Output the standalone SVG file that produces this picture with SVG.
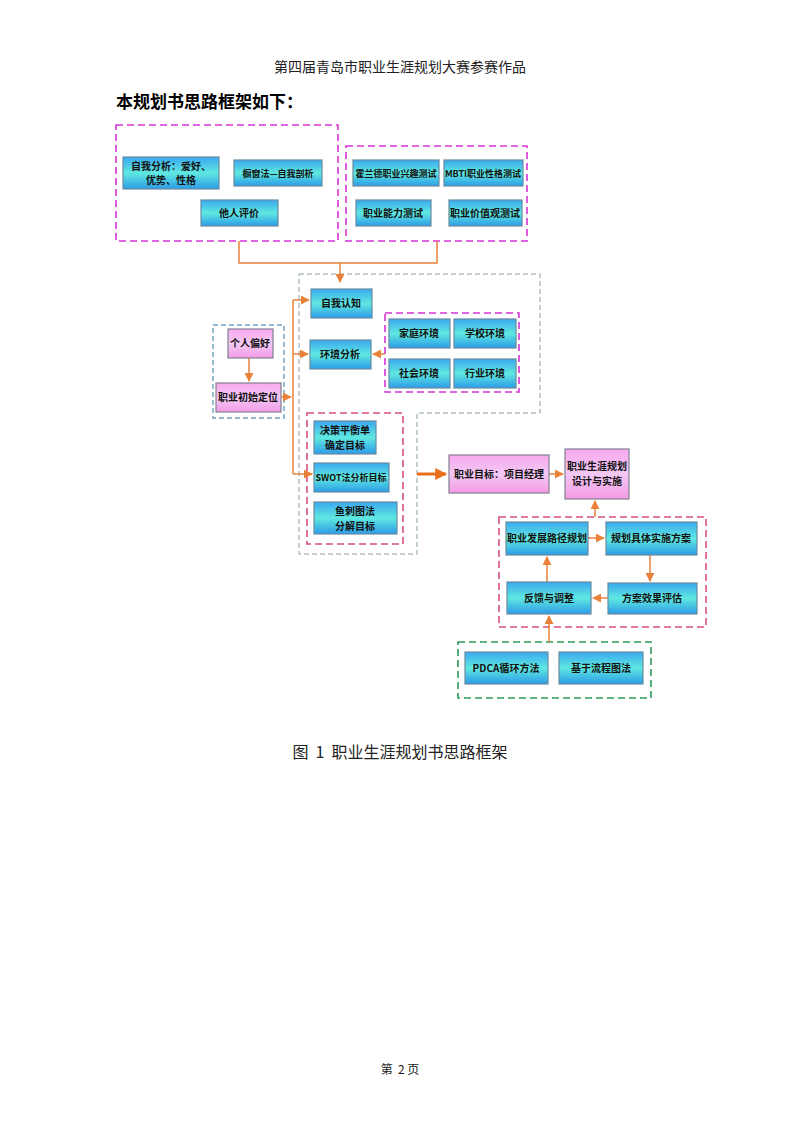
<svg xmlns="http://www.w3.org/2000/svg" width="800" height="1132" viewBox="0 0 800 1132">
<defs>
<linearGradient id="gb" x1="0" y1="0" x2="0" y2="1"><stop offset="0" stop-color="#3aa8f0"/><stop offset="0.5" stop-color="#5fe8e0"/><stop offset="1" stop-color="#2c9ce8"/></linearGradient>
<linearGradient id="gp" x1="0" y1="0" x2="0" y2="1"><stop offset="0" stop-color="#f9a8ee"/><stop offset="0.5" stop-color="#f2c8f4"/><stop offset="1" stop-color="#f59ae6"/></linearGradient>
<marker id="ar" viewBox="0 0 10 10" refX="9" refY="5" markerWidth="6" markerHeight="6" orient="auto"><path d="M0,0L10,5L0,10z" fill="#e8823a"/></marker>
<marker id="ab" viewBox="0 0 10 10" refX="9" refY="5" markerWidth="4" markerHeight="4" orient="auto"><path d="M0,0L10,5L0,10z" fill="#e86e1a"/></marker>
<style>
.n{fill:url(#gb);stroke:#6a8ca0;stroke-width:1.2}
.p{fill:url(#gp);stroke:#808090;stroke-width:1.2}
.t{font-family:"Noto Sans CJK SC",sans-serif;font-size:10px;font-weight:bold;fill:#111;text-anchor:middle}
.s{font-size:9px}
.c{fill:none;stroke:#e8823a;stroke-width:1.5}
.dm{fill:none;stroke:#d633d6;stroke-width:1.6;stroke-dasharray:7,4}
.dr{fill:none;stroke:#d8507a;stroke-width:1.6;stroke-dasharray:7,4}
.dg{fill:none;stroke:#8aa0a0;stroke-width:1;stroke-dasharray:5,3}
.db{fill:none;stroke:#6ea0c0;stroke-width:1.4;stroke-dasharray:5,3}
.dgr{fill:none;stroke:#2e9a5a;stroke-width:1.6;stroke-dasharray:7,4}
</style>
</defs>
<rect width="800" height="1132" fill="#fff"/>
<text x="400" y="72" font-family="Noto Sans CJK SC,serif" font-size="14" text-anchor="middle" fill="#222">第四届青岛市职业生涯规划大赛参赛作品</text>
<text x="116" y="108" font-family="Noto Sans CJK SC,sans-serif" font-size="17" font-weight="bold" fill="#000">本规划书思路框架如下：</text>
<g id="groups">
<rect class="dm" x="116" y="125" width="222" height="116"/>
<rect class="dm" x="346" y="146" width="181" height="95"/>
<path class="dg" d="M299,274H540V413H417V554H299Z"/>
<rect class="dm" x="385" y="313" width="134" height="79"/>
<rect class="db" x="213" y="325" width="71" height="93"/>
<rect class="dr" x="307" y="413" width="96" height="131"/>
<rect class="dr" x="499" y="517" width="207" height="110"/>
<rect class="dgr" x="458" y="642" width="193" height="56"/>
</g>
<g id="connectors">
<path class="c" d="M239,241V263H437V241"/>
<path class="c" d="M340,263V282" marker-end="url(#ar)"/>
<path class="c" d="M293,300V474"/>
<path class="c" d="M293,300H309" marker-end="url(#ar)"/>
<path class="c" d="M293,354H308" marker-end="url(#ar)"/>
<path class="c" d="M385,354H373" marker-end="url(#ar)"/>
<path class="c" d="M281,397H291" marker-end="url(#ar)"/>
<path class="c" d="M293,474H312" marker-end="url(#ar)"/>
<path class="c" d="M249,358V381" marker-end="url(#ar)"/>
<path d="M417,474H446" stroke="#e86e1a" stroke-width="3" fill="none" marker-end="url(#ab)"/>
<path class="c" d="M549,474H563" marker-end="url(#ar)"/>
<path class="c" d="M595,517V501" marker-end="url(#ar)"/>
<path class="c" d="M588,538H604" marker-end="url(#ar)"/>
<path class="c" d="M650,555V581" stroke="#b08070" marker-end="url(#ar)"/>
<path class="c" d="M608,598H593" marker-end="url(#ar)"/>
<path class="c" d="M547,582V557" stroke="#b08070" marker-end="url(#ar)"/>
<path class="c" d="M549,642V616" stroke="#b09090" marker-end="url(#ar)"/>
</g>
<g id="n1"><rect class="n" x="123" y="157" width="96" height="32"/><text class="t" x="171" y="170">自我分析：爱好、</text><text class="t" x="171" y="184">优势、性格</text></g>
<g id="n2"><rect class="n" x="234" y="160" width="88" height="26"/><text class="t s" x="278" y="177">橱窗法—自我剖析</text></g>
<g id="n3"><rect class="n" x="201" y="200" width="77" height="26"/><text class="t" x="239" y="217">他人评价</text></g>
<g id="n4"><rect class="n" x="353" y="160" width="86" height="26"/><text class="t s" x="396" y="177">霍兰德职业兴趣测试</text></g>
<g id="n5"><rect class="n" x="444" y="160" width="79" height="26"/><text class="t s" x="483" y="177">MBTI职业性格测试</text></g>
<g id="n6"><rect class="n" x="356" y="200" width="75" height="26"/><text class="t" x="393" y="217">职业能力测试</text></g>
<g id="n7"><rect class="n" x="449" y="200" width="73" height="26"/><text class="t" x="485" y="217">职业价值观测试</text></g>
<g id="n8"><rect class="n" x="311" y="289" width="61" height="29"/><text class="t" x="341" y="307">自我认知</text></g>
<g id="n9"><rect class="n" x="310" y="340" width="61" height="29"/><text class="t" x="340" y="358">环境分析</text></g>
<g id="n10"><rect class="n" x="389" y="319" width="61" height="29"/><text class="t" x="419" y="337">家庭环境</text></g>
<g id="n11"><rect class="n" x="454" y="319" width="62" height="29"/><text class="t" x="485" y="337">学校环境</text></g>
<g id="n12"><rect class="n" x="389" y="359" width="61" height="29"/><text class="t" x="419" y="377">社会环境</text></g>
<g id="n13"><rect class="n" x="454" y="359" width="62" height="29"/><text class="t" x="485" y="377">行业环境</text></g>
<g id="n14"><rect class="p" x="228" y="329" width="45" height="29"/><text class="t" x="250" y="347">个人偏好</text></g>
<g id="n15"><rect class="p" x="216" y="383" width="65" height="29"/><text class="t" x="248" y="401">职业初始定位</text></g>
<g id="n16"><rect class="n" x="314" y="421" width="62" height="33"/><text class="t" x="345" y="434">决策平衡单</text><text class="t" x="345" y="449">确定目标</text></g>
<g id="n17"><rect class="n" x="314" y="463" width="75" height="29"/><text class="t s" x="351" y="481">SWOT法分析目标</text></g>
<g id="n18"><rect class="n" x="314" y="502" width="83" height="32"/><text class="t" x="355" y="515">鱼刺图法</text><text class="t" x="355" y="530">分解目标</text></g>
<g id="n19"><rect class="p" x="449" y="455" width="100" height="38"/><text class="t" x="499" y="478">职业目标：项目经理</text></g>
<g id="n20"><rect class="p" x="565" y="449" width="64" height="50"/><text class="t" x="597" y="470">职业生涯规划</text><text class="t" x="597" y="485">设计与实施</text></g>
<g id="n21"><rect class="n" x="506" y="522" width="82" height="33"/><text class="t" x="547" y="542">职业发展路径规划</text></g>
<g id="n22"><rect class="n" x="606" y="522" width="91" height="33"/><text class="t" x="651" y="542">规划具体实施方案</text></g>
<g id="n23"><rect class="n" x="507" y="582" width="84" height="32"/><text class="t" x="549" y="602">反馈与调整</text></g>
<g id="n24"><rect class="n" x="608" y="583" width="89" height="31"/><text class="t" x="652" y="602">方案效果评估</text></g>
<g id="n25"><rect class="n" x="465" y="652" width="83" height="32"/><text class="t" x="506" y="672">PDCA循环方法</text></g>
<g id="n26"><rect class="n" x="559" y="652" width="84" height="32"/><text class="t" x="601" y="672">基于流程图法</text></g>
<text x="400" y="758" font-family="Noto Sans CJK SC,serif" font-size="16" text-anchor="middle" fill="#222" xml:space="preserve">图  1  职业生涯规划书思路框架</text>
<text x="400" y="1074" font-family="Noto Sans CJK SC,serif" font-size="12" text-anchor="middle" fill="#222" xml:space="preserve">第  2 页</text>
</svg>
